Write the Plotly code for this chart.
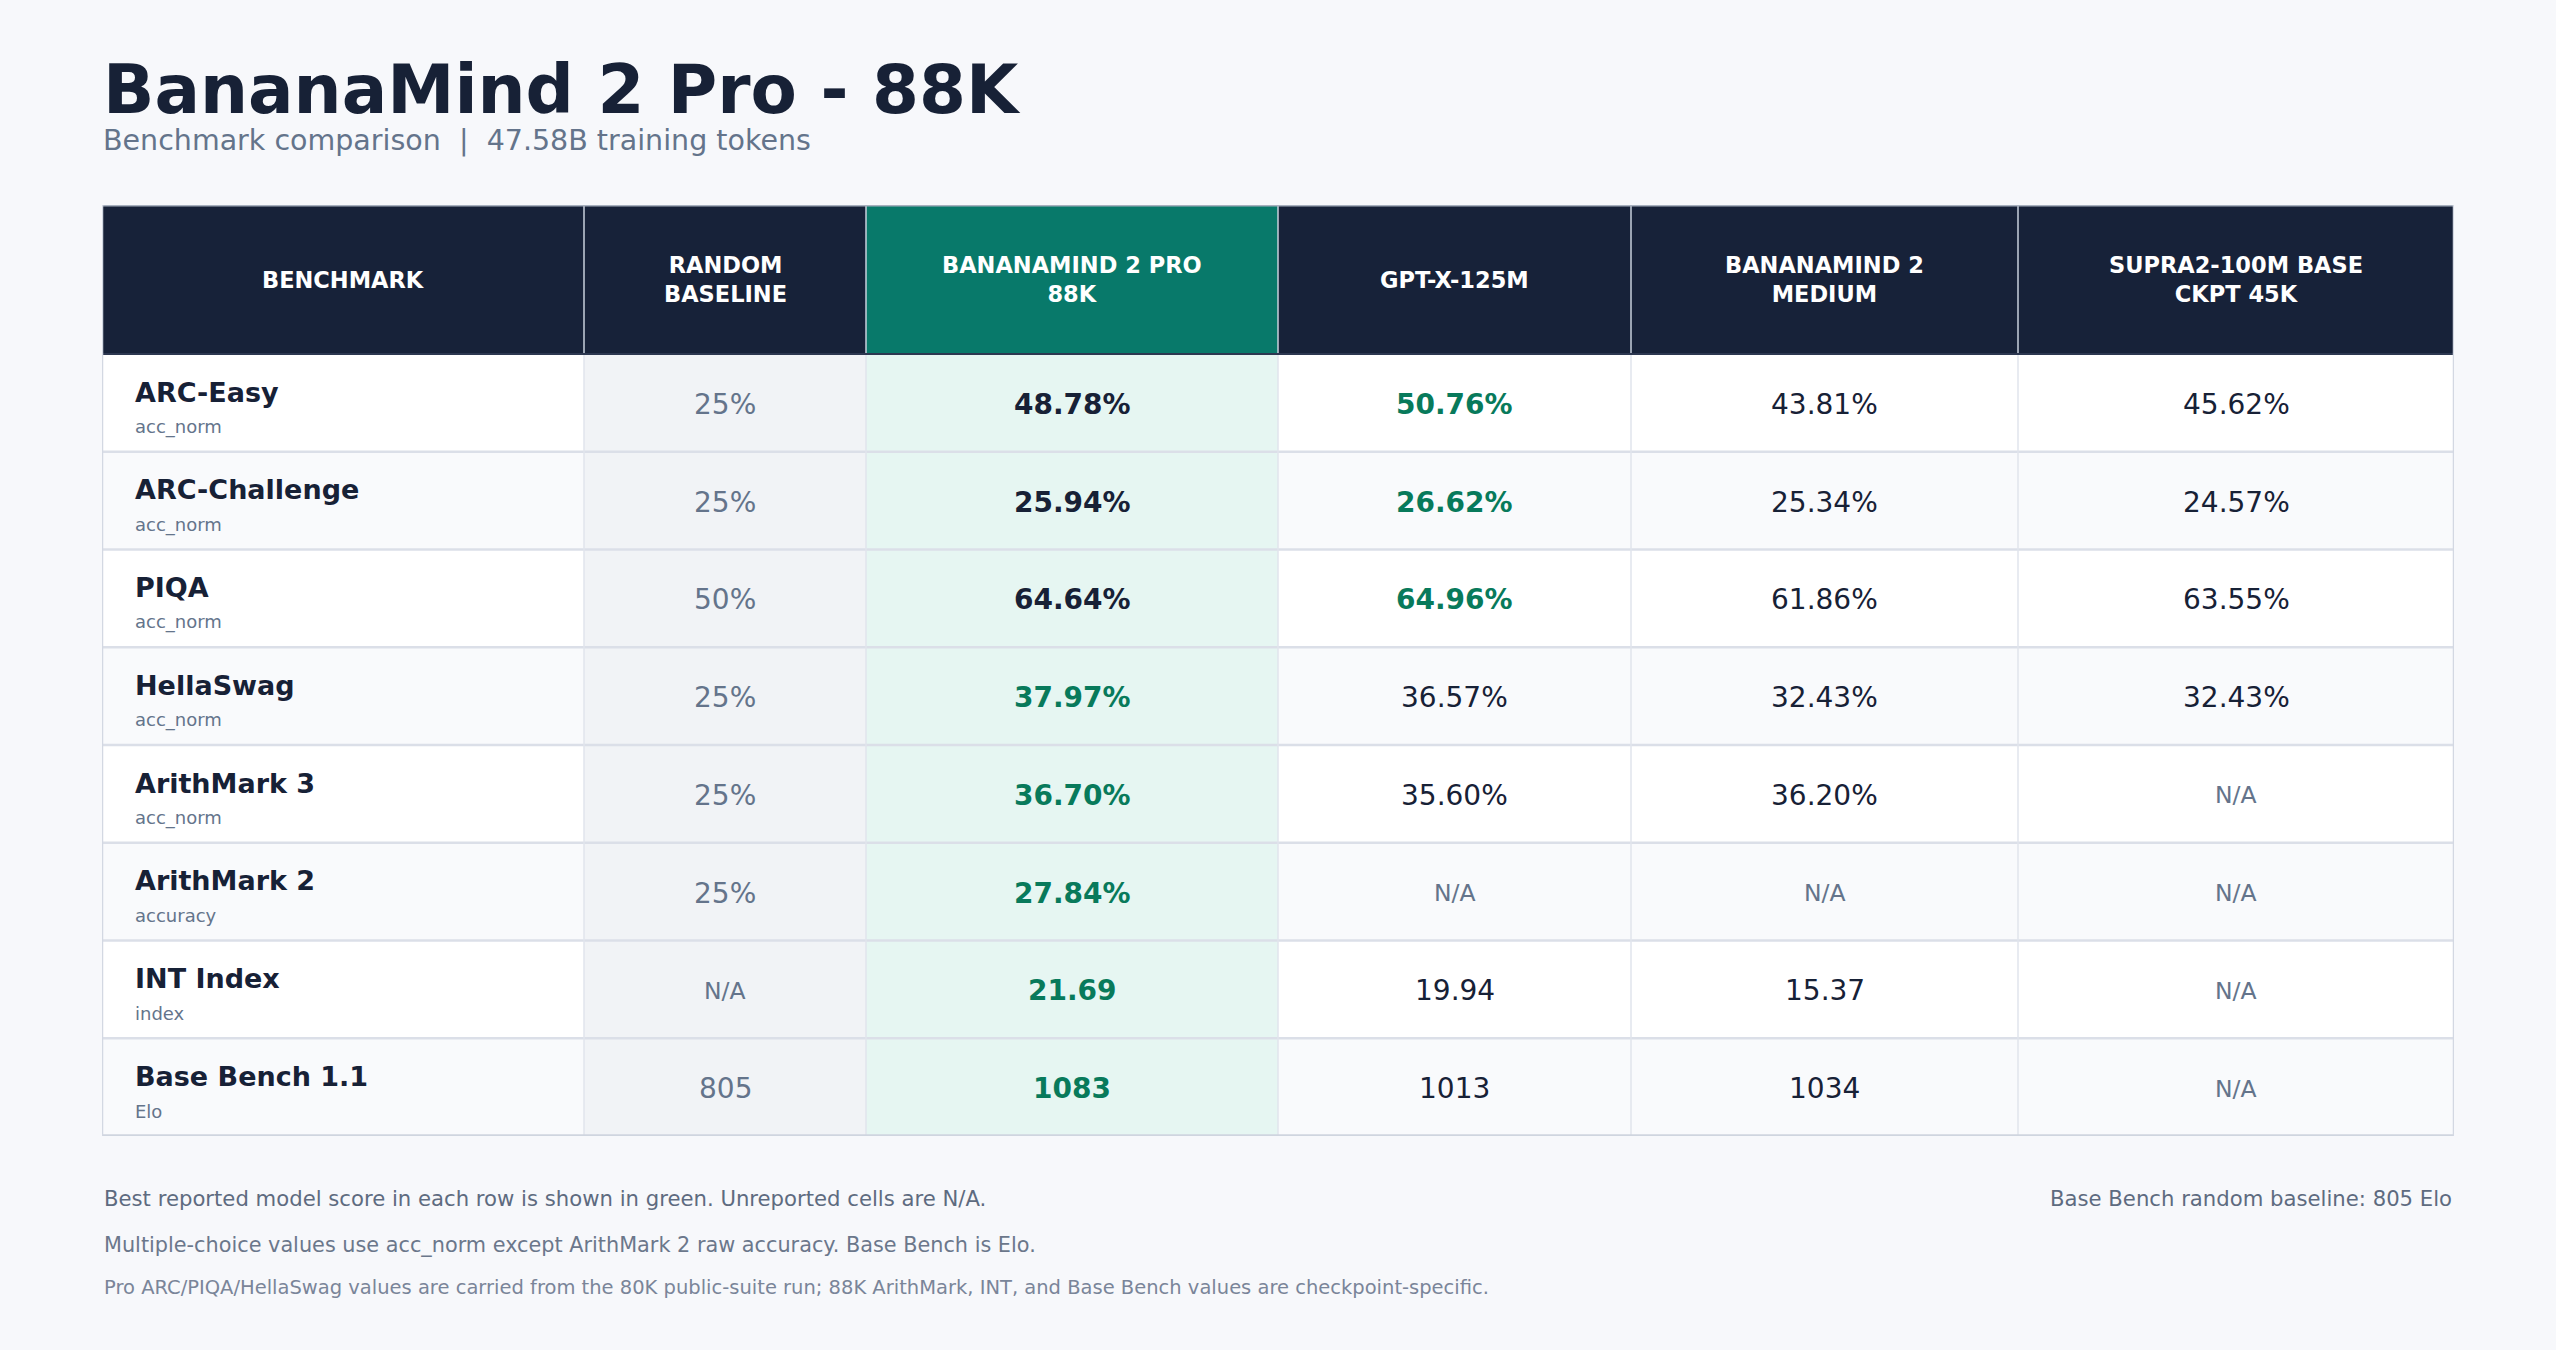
import plotly.graph_objects as go

# ---------------- data ----------------
BENCHMARKS = ["ARC-Easy", "ARC-Challenge", "PIQA", "HellaSwag",
              "ArithMark 3", "ArithMark 2", "INT Index", "Base Bench 1.1"]
METRICS = ["acc_norm", "acc_norm", "acc_norm", "acc_norm",
           "acc_norm", "accuracy", "index", "Elo"]
UNITS = ["pct", "pct", "pct", "pct", "pct", "pct", "index", "elo"]

HEADERS = ["BENCHMARK", "RANDOM<br>BASELINE", "BANANAMIND 2 PRO<br>88K",
           "GPT-X-125M", "BANANAMIND 2<br>MEDIUM", "SUPRA2-100M BASE<br>CKPT 45K"]

RANDOM_BASELINE = [25, 25, 50, 25, 25, 25, None, 805]
PRO_88K = [48.78, 25.94, 64.64, 37.97, 36.70, 27.84, 21.69, 1083]
GPT_X_125M = [50.76, 26.62, 64.96, 36.57, 35.60, None, 19.94, 1013]
BM2_MEDIUM = [43.81, 25.34, 61.86, 32.43, 36.20, None, 15.37, 1034]
SUPRA2_45K = [45.62, 24.57, 63.55, 32.43, None, None, None, None]

TITLE = "BananaMind 2 Pro - 88K"
SUBTITLE = "Benchmark comparison  |  47.58B training tokens"
NOTES = [
    "Best reported model score in each row is shown in green. Unreported cells are N/A.",
    "Multiple-choice values use acc_norm except ArithMark 2 raw accuracy. Base Bench is Elo.",
    "Pro ARC/PIQA/HellaSwag values are carried from the 80K public-suite run; 88K ArithMark, INT, and Base Bench values are checkpoint-specific.",
]
NOTE_RIGHT = "Base Bench random baseline: 805 Elo"

# ---------------- style ----------------
W, H = 2556, 1350
FONT = "DejaVu Sans"
BG = "#f7f8fb"
NAVY = "#172239"
TEAL = "#08796a"
PRO_FILL = "#e6f6f2"
RAND_FILL = "#f1f3f6"
ROW_FILLS = ["#ffffff", "#f9fafc"]
GREEN = "#087a5b"
DARK = "#172136"
GREY = "#64748b"
GRID = "#dbdfe8"

COL_W = [482, 282, 412, 353, 387, 436]
HEADER_H = 149 / 97.75          # header height in row units
TABLE_PX = (102, 2454, 205, 1136)  # left, right, top, bottom in px


def fmt(v, unit, baseline=False):
    if v is None:
        return "N/A"
    if unit == "pct":
        return f"{v:g}%" if baseline else f"{v:.2f}%"
    if unit == "index":
        return f"{v:.2f}"
    return f"{v:.0f}"


model_cols = [PRO_88K, GPT_X_125M, BM2_MEDIUM, SUPRA2_45K]
n_rows = len(BENCHMARKS)
edges = [0]
for w in COL_W:
    edges.append(edges[-1] + w)
centers = [(edges[i] + edges[i + 1]) / 2 for i in range(len(COL_W))]

shapes = []
annotations = []


def rect(x0, x1, y0, y1, fill):
    shapes.append(dict(type="rect", xref="x", yref="y", x0=x0, x1=x1, y0=y0, y1=y1,
                       fillcolor=fill, line=dict(width=0), layer="below"))


def line(x0, x1, y0, y1, color, width):
    shapes.append(dict(type="line", xref="x", yref="y", x0=x0, x1=x1, y0=y0, y1=y1,
                       line=dict(color=color, width=width), layer="above"))


def text(x, y, s, size, color, xanchor="center", bold=False):
    annotations.append(dict(xref="x", yref="y", x=x, y=y, text=f"<b>{s}</b>" if bold else s,
                            showarrow=False, xanchor=xanchor, yanchor="middle",
                            font=dict(family=FONT, size=size, color=color)))


# header
for c in range(len(COL_W)):
    rect(edges[c], edges[c + 1], 0, HEADER_H, TEAL if c == 2 else NAVY)
    text(centers[c], HEADER_H / 2, HEADERS[c], 22.5, "#ffffff", bold=True)

# body
for r in range(n_rows):
    y0 = HEADER_H + r
    row_fill = ROW_FILLS[r % 2]
    vals = [v for col in model_cols for v in [col[r]] if v is not None]
    best = max(vals) if vals else None
    for c in range(len(COL_W)):
        fill = RAND_FILL if c == 1 else PRO_FILL if c == 2 else row_fill
        rect(edges[c], edges[c + 1], y0, y0 + 1, fill)

    text(edges[0] + 31, y0 + 0.39, BENCHMARKS[r], 27, DARK, xanchor="left", bold=True)
    text(edges[0] + 31, y0 + 0.745, METRICS[r], 18, GREY, xanchor="left")

    rb = RANDOM_BASELINE[r]
    text(centers[1], y0 + 0.515, fmt(rb, UNITS[r], baseline=True),
         28 if rb is not None else 23.5, GREY)

    for k, col in enumerate(model_cols):
        v = col[r]
        cx = centers[k + 2]
        if v is None:
            text(cx, y0 + 0.515, "N/A", 23.5, GREY)
        elif v == best:
            text(cx, y0 + 0.515, fmt(v, UNITS[r]), 28, GREEN, bold=True)
        else:
            text(cx, y0 + 0.515, fmt(v, UNITS[r]), 28, DARK, bold=(k == 0))

# grid lines
y_end = HEADER_H + n_rows
for r in range(1, n_rows):
    line(0, edges[-1], HEADER_H + r, HEADER_H + r, GRID, 2.5)
for c in range(1, len(COL_W)):
    line(edges[c], edges[c], HEADER_H, y_end, "#e1e5ed", 1.5)
    line(edges[c], edges[c], 0, HEADER_H, "#c9d0dc", 1.5)
line(0, edges[-1], 0, 0, "#a7b0be", 3)
line(0, edges[-1], HEADER_H, HEADER_H, "#2c3750", 2)
line(0, edges[-1], y_end, y_end, "#cfd5df", 3.5)
line(0, 0, 0, y_end, "#d3d8e2", 2.5)
line(edges[-1], edges[-1], 0, y_end, "#d3d8e2", 2.5)


def paper_text(x, y, s, size, color, xanchor="left", bold=False):
    annotations.append(dict(xref="paper", yref="paper", x=x / W, y=1 - y / H,
                            text=f"<b>{s}</b>" if bold else s, showarrow=False,
                            xanchor=xanchor, yanchor="middle",
                            font=dict(family=FONT, size=size, color=color)))


paper_text(101, 90, TITLE, 67.5, "#172136", bold=True)
paper_text(101, 140, SUBTITLE, 28.5, GREY)
paper_text(102, 1198, NOTES[0], 21.2, "#5e6b80")
paper_text(2454, 1198, NOTE_RIGHT, 21.2, "#5e6b80", xanchor="right")
paper_text(102, 1245, NOTES[1], 20.8, "#6b778b")
paper_text(102, 1287, NOTES[2], 19.5, "#7a8599")

left, right, top, bottom = TABLE_PX
fig = go.Figure()
fig.add_trace(go.Scatter(x=[0], y=[0], mode="markers", marker=dict(opacity=0),
                         hoverinfo="skip", showlegend=False))
fig.update_layout(
    width=W, height=H,
    margin=dict(l=0, r=0, t=0, b=0),
    paper_bgcolor=BG, plot_bgcolor="rgba(0,0,0,0)",
    xaxis=dict(domain=[left / W, right / W], range=[0, edges[-1]],
               visible=False, fixedrange=True),
    yaxis=dict(domain=[1 - bottom / H, 1 - top / H], range=[y_end, 0],
               visible=False, fixedrange=True),
    shapes=shapes, annotations=annotations,
    showlegend=False,
)
fig.write_html("out.html", config={"displayModeBar": False},
               post_script="document.body.style.margin='0px';")
